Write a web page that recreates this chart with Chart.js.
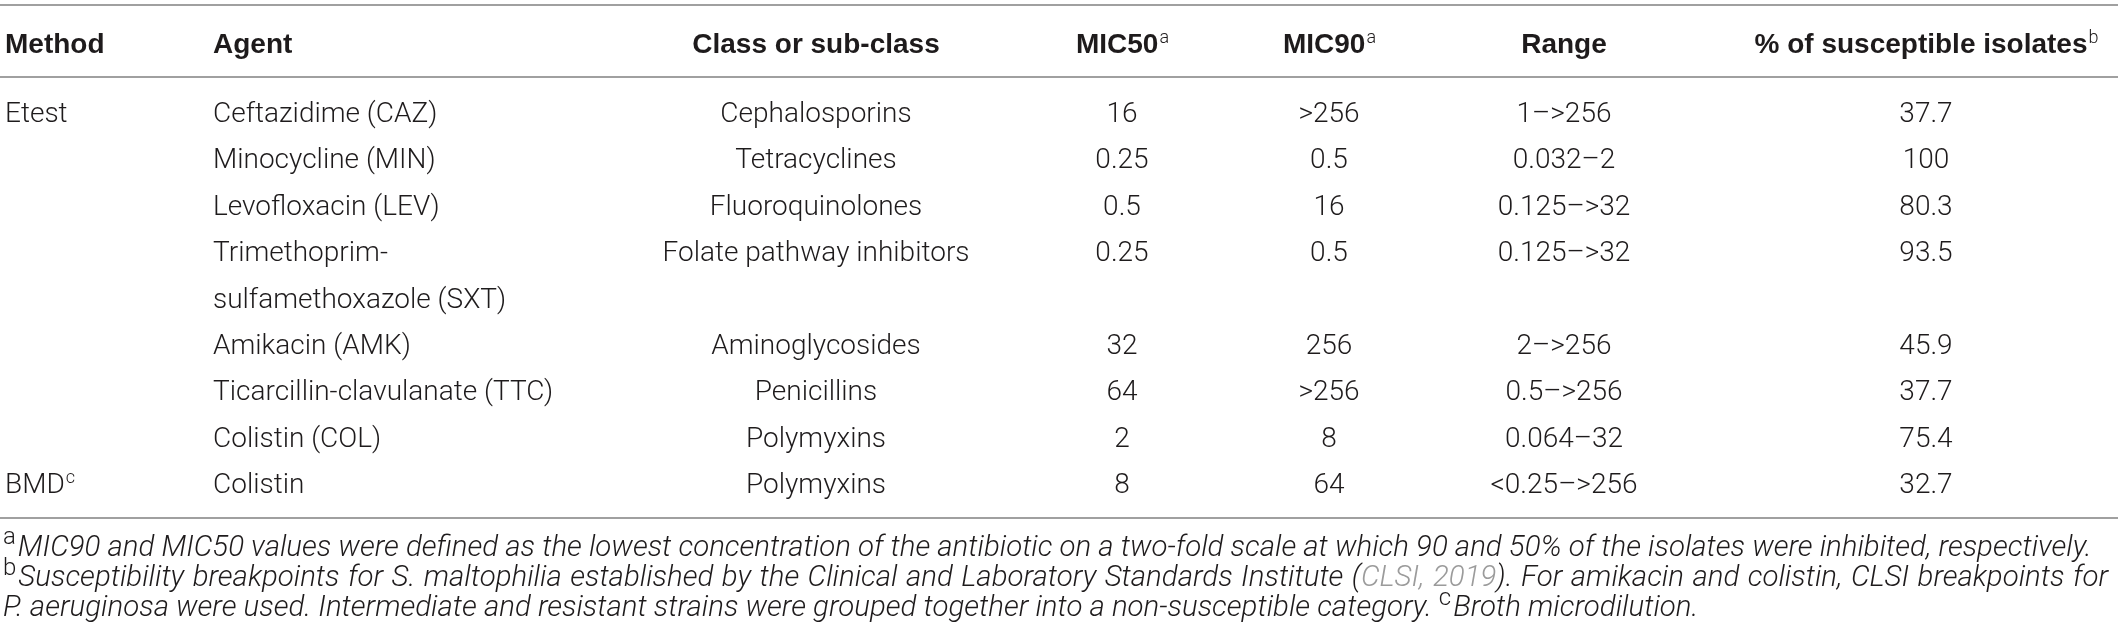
<!DOCTYPE html>
<html>
<head>
<meta charset="utf-8">
<script src="https://cdn.jsdelivr.net/npm/chart.js@4.4.1/dist/chart.umd.min.js"></script>
<style>
  html, body { margin: 0; padding: 0; background: #fff; }
  #wrap { width: 2118px; height: 643px; }
</style>
</head>
<body>
<div id="wrap"><canvas id="chart" width="2118" height="643"></canvas></div>
<script>
// table content
const headers = ["Method", "Agent", "Class or sub-class", "MIC50", "MIC90", "Range", "% of susceptible isolates"];
const headerSup = ["", "", "", "a", "a", "", "b"];
const methods = ["Etest", "", "", "", "", "", "", "BMD"];
const methodSup = ["", "", "", "", "", "", "", "c"];
const agents = [
  ["Ceftazidime (CAZ)"],
  ["Minocycline (MIN)"],
  ["Levofloxacin (LEV)"],
  ["Trimethoprim-", "sulfamethoxazole (SXT)"],
  ["Amikacin (AMK)"],
  ["Ticarcillin-clavulanate (TTC)"],
  ["Colistin (COL)"],
  ["Colistin"]
];
const classes = ["Cephalosporins", "Tetracyclines", "Fluoroquinolones", "Folate pathway inhibitors",
  "Aminoglycosides", "Penicillins", "Polymyxins", "Polymyxins"];
const mic50 = ["16", "0.25", "0.5", "0.25", "32", "64", "2", "8"];
const mic90 = [">256", "0.5", "16", "0.5", "256", ">256", "8", "64"];
const ranges = ["1–>256", "0.032–2", "0.125–>32", "0.125–>32", "2–>256", "0.5–>256", "0.064–32", "<0.25–>256"];
const susceptible = ["37.7", "100", "80.3", "93.5", "45.9", "37.7", "75.4", "32.7"];

const footnotes = [
  [{ t: "a", sup: true }, { t: "MIC90 and MIC50 values were defined as the lowest concentration of the antibiotic on a two-fold scale at which 90 and 50% of the isolates were inhibited, respectively." }],
  [{ t: "b", sup: true }, { t: "Susceptibility breakpoints for S. maltophilia established by the Clinical and Laboratory Standards Institute (" },
   { t: "CLSI, 2019", link: true }, { t: "). For amikacin and colistin, CLSI breakpoints for" }],
  [{ t: "P. aeruginosa were used. Intermediate and resistant strains were grouped together into a non-susceptible category. " },
   { t: "c", sup: true }, { t: "Broth microdilution." }]
];

// layout
const W = 2118, H = 643;
const colX = [5, 213, 816, 1122, 1329, 1564, 1926];
const colAlign = ["left", "left", "center", "center", "center", "center", "center"];
const firstLine = 112, lineStep = 46.4;
const headerLine = -1.49, topRule = -2.31, headRule = -0.755, bottomRule = 8.75;
const footLines = [9.40, 10.05, 10.70];
const footLeft = 3, footEnd1 = 2092, footEnd2 = 2108;

const ink = "#1e1b1c";
const ruleColor = "#a0a0a0";
const bodySize = 28, headSize = 28;
const bodyFont = "300 28px Roboto, 'Liberation Sans', sans-serif";
const headFont = "bold 28px 'Liberation Sans', Arial, sans-serif";
const footFace = "Roboto, 'Liberation Sans', sans-serif";

// row -> line index (the wrapped agent takes two lines)
const rowLine = [];
let acc = 0;
agents.forEach(a => { rowLine.push(acc); acc += a.length; });

const columns = [methods, agents, classes, mic50, mic90, ranges, susceptible];
const datasets = columns.map((col, c) => ({
  label: headers[c],
  data: col.map((v, i) => ({ x: colX[c], y: rowLine[i] })),
  pointRadius: 0,
  showLine: false
}));

function supOf(size, ratio) {
  return "300 " + Math.round(size * ratio) + "px Roboto, 'Liberation Sans', sans-serif";
}

function drawSegs(ctx, segs, x, y, align, font, size) {
  const supFont = supOf(size, 0.64);
  let total = 0;
  segs.forEach(s => { ctx.font = s.sup ? supFont : font; s.w = ctx.measureText(s.t).width; total += s.w; });
  let cx = align === "center" ? x - total / 2 : x;
  segs.forEach(s => {
    ctx.font = s.sup ? supFont : font;
    ctx.fillStyle = ink;
    ctx.fillText(s.t, cx, s.sup ? y - size * 0.36 : y);
    cx += s.w + (s.sup ? 0 : 1);
  });
}

function naturalWidth(ctx, segs, font, size) {
  const supFont = supOf(size, 0.8);
  let w = 0;
  segs.forEach(s => { ctx.font = s.sup ? supFont : font; w += ctx.measureText(s.t).width + (s.sup ? 2 : 0); });
  return w;
}

function drawJustified(ctx, segs, x, y, end, font, size) {
  const supFont = supOf(size, 0.8);
  ctx.font = font;
  const space = ctx.measureText(" ").width;
  let spaces = 0;
  segs.forEach(s => { spaces += (s.t.match(/ /g) || []).length; });
  const natural = naturalWidth(ctx, segs, font, size);
  const extra = end && spaces ? (end - x - natural) / spaces : 0;
  let cx = x;
  segs.forEach(s => {
    ctx.font = s.sup ? supFont : font;
    ctx.fillStyle = s.link ? "#9b9b9b" : ink;
    const words = s.t.split(" ");
    words.forEach((w, k) => {
      ctx.fillText(w, cx, s.sup ? y - size * 0.4 : y);
      cx += ctx.measureText(w).width;
      if (k < words.length - 1) cx += space + extra;
    });
    if (s.sup) cx += 2;
  });
}

const tablePlugin = {
  id: "tableText",
  afterDatasetsDraw(chart) {
    const { ctx, chartArea, scales } = chart;
    const y = v => scales.y.getPixelForValue(v);
    ctx.save();
    ctx.textBaseline = "alphabetic";

    // rules
    ctx.strokeStyle = ruleColor;
    ctx.lineWidth = 2;
    [topRule, headRule, bottomRule].forEach(r => {
      ctx.beginPath();
      ctx.moveTo(chartArea.left, Math.round(y(r)));
      ctx.lineTo(chartArea.right, Math.round(y(r)));
      ctx.stroke();
    });

    // header row
    headers.forEach((h, c) => {
      const segs = [{ t: h }];
      if (headerSup[c]) segs.push({ t: headerSup[c], sup: true });
      drawSegs(ctx, segs, scales.x.getPixelForValue(colX[c]), y(headerLine) + 10, colAlign[c], headFont, headSize);
    });

    // body cells, placed at the dataset points
    chart.data.datasets.forEach((ds, c) => {
      const meta = chart.getDatasetMeta(c);
      meta.data.forEach((pt, i) => {
        const cell = columns[c][i];
        const lines = Array.isArray(cell) ? cell : [cell];
        lines.forEach((ln, k) => {
          if (!ln) return;
          const segs = [{ t: ln }];
          if (c === 0 && methodSup[i]) segs.push({ t: methodSup[i], sup: true });
          const py = scales.y.getPixelForValue(rowLine[i] + k);
          drawSegs(ctx, segs, pt.x, py + 10, colAlign[c], bodyFont, bodySize);
        });
      });
    });

    // footnotes: size fitted so the first (unwrapped) note spans its width
    const probe = "italic 300 25px " + footFace;
    const nat = naturalWidth(ctx, footnotes[0], probe, 25);
    const fSize = 25 * (footEnd1 - footLeft) / nat;
    const footFont = "italic 300 " + fSize.toFixed(2) + "px " + footFace;
    drawJustified(ctx, footnotes[0], footLeft, y(footLines[0]) + 8, null, footFont, fSize);
    drawJustified(ctx, footnotes[1], footLeft, y(footLines[1]) + 8, footEnd2, footFont, fSize);
    drawJustified(ctx, footnotes[2], footLeft, y(footLines[2]) + 8, null, footFont, fSize);
    ctx.restore();
  }
};

new Chart(document.getElementById("chart").getContext("2d"), {
  type: "scatter",
  data: { datasets },
  options: {
    responsive: false,
    animation: false,
    devicePixelRatio: 1,
    events: [],
    layout: { padding: 0 },
    plugins: { legend: { display: false }, tooltip: { enabled: false } },
    scales: {
      x: { type: "linear", min: 0, max: W, display: false },
      y: { type: "linear", reverse: true, min: -firstLine / lineStep, max: (H - firstLine) / lineStep, display: false }
    }
  },
  plugins: [tablePlugin]
});
</script>
</body>
</html>
